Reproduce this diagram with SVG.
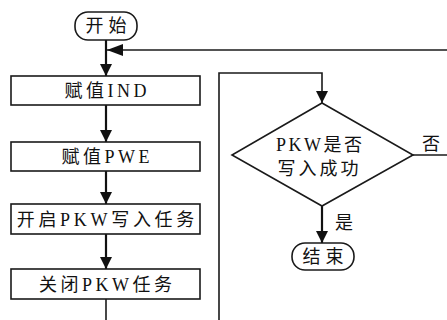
<svg xmlns="http://www.w3.org/2000/svg" width="447" height="320" viewBox="0 0 447 320">
<style>
.box{fill:#fff;stroke:#1a1a1a;stroke-width:1.6}
.t{font-family:"Liberation Serif","Noto Sans CJK SC",serif;font-size:18px;fill:#111;text-anchor:middle}
.ln{fill:none;stroke:#1a1a1a;stroke-width:1.6}
.th{fill:none;stroke:#111;stroke-width:2.2}
</style>
<defs>
<marker id="ah" markerUnits="userSpaceOnUse" markerWidth="12" markerHeight="14" refX="12" refY="6" orient="auto">
<path d="M0,0 L12,6 L0,12 Z" fill="#111"/>
</marker>
<marker id="ahl" markerUnits="userSpaceOnUse" markerWidth="16" markerHeight="14" refX="16" refY="6" orient="auto">
<path d="M0,0 L16,6 L0,12 Z" fill="#111"/>
</marker>
</defs>
<g id="connectors">
<path class="th" d="M106,40 V76" marker-end="url(#ah)"/>
<path class="ln" d="M447,50 H107" marker-end="url(#ahl)"/>
<path class="th" d="M106,105 V142" marker-end="url(#ah)"/>
<path class="th" d="M106,171 V204" marker-end="url(#ah)"/>
<path class="th" d="M106,234 V269" marker-end="url(#ah)"/>
<path class="ln" d="M106,299 V320"/>
<path class="ln" d="M219,320 V73 H322 V103" marker-end="url(#ah)"/>
<path class="ln" d="M413,155 H447"/>
<path class="th" d="M322,206 V243" marker-end="url(#ah)"/>
<text class="t" x="431" y="150">否</text>
<text class="t" x="344" y="229">是</text>
</g>
<g id="start">
<rect class="box" x="75" y="12" width="62" height="28" rx="13"/>
<text class="t" x="106" y="32" letter-spacing="5" dx="2.5">开始</text>
</g>
<g id="n1">
<rect class="box" x="11" y="76" width="189" height="29"/>
<text class="t" x="105.5" y="97" letter-spacing="3.5" dx="1.75">赋值IND</text>
</g>
<g id="n2">
<rect class="box" x="11" y="142" width="189" height="29"/>
<text class="t" x="105.5" y="163" letter-spacing="3.5" dx="1.75">赋值PWE</text>
</g>
<g id="n3">
<rect class="box" x="11" y="204" width="189" height="30"/>
<text class="t" x="105.5" y="226" letter-spacing="3.7" dx="1.85">开启PKW写入任务</text>
</g>
<g id="n4">
<rect class="box" x="11" y="269" width="189" height="30"/>
<text class="t" x="105.5" y="291" letter-spacing="3.5" dx="1.75">关闭PKW任务</text>
</g>
<g id="decision">
<path class="box" d="M322,103 L413,155 L322,206 L232,155 Z"/>
<text class="t" x="319" y="151" letter-spacing="2.5" dx="1.25">PKW是否</text>
<text class="t" x="318" y="175" letter-spacing="3" dx="1.5">写入成功</text>
</g>
<g id="end">
<rect class="box" x="292" y="243" width="62" height="27" rx="13"/>
<text class="t" x="323" y="263" letter-spacing="5" dx="2.5">结束</text>
</g>
</svg>
